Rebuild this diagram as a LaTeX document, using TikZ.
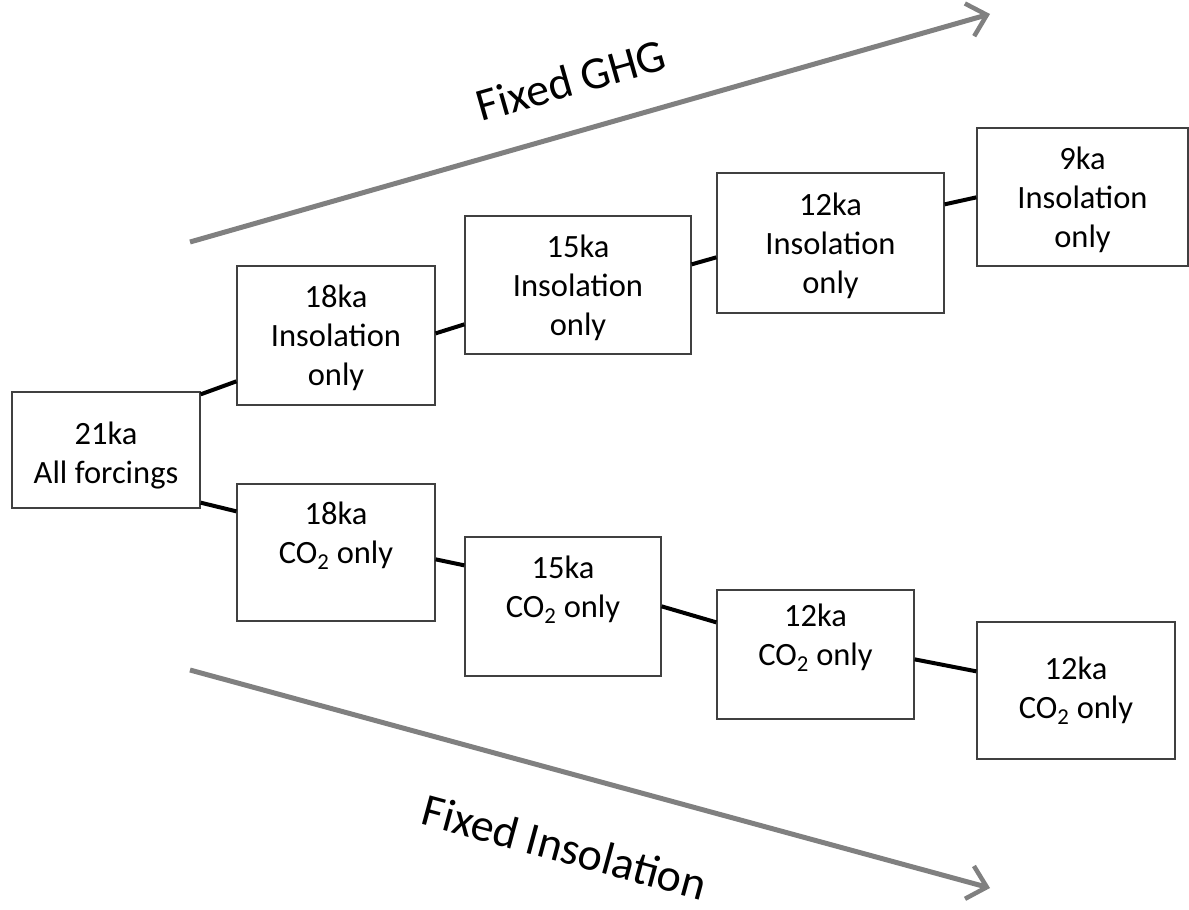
\documentclass[tikz,border=0pt]{standalone}
\usepackage{fontspec}
\setmainfont{Carlito}
\usetikzlibrary{arrows.meta,calc}
\begin{document}
\begin{tikzpicture}[x=1pt,y=-1pt,
 box/.style={draw=black!75, line width=1.3pt, align=center, inner sep=0pt,
   font=\fontsize{32.5}{39}\selectfont},
 link/.style={line width=4pt, black},
 trend/.style={draw=black!50, line width=5pt,
   -{Straight Barb[length=18pt,width=34pt,line width=4.5pt]}},
 lab/.style={font=\fontsize{46}{52}\selectfont, inner sep=0pt}]
\useasboundingbox (0,0) rectangle (1189,910);

% boxes
\node[box, minimum width=188pt, minimum height=116pt] (A) at (106,450) {\rule{0pt}{34pt}21ka\\All forcings};
\node[box, minimum width=198pt, minimum height=139pt] (B1) at (336,335.5) {\strut 18ka\\Insolation\\only};
\node[box, minimum width=226pt, minimum height=138pt] (B2) at (578,285) {\strut 15ka\\Insolation\\only};
\node[box, minimum width=227pt, minimum height=140pt] (B3) at (830.5,243) {\strut 12ka\\Insolation\\only};
\node[box, minimum width=211pt, minimum height=138pt] (B4) at (1082.5,197) {\strut 9ka\\Insolation\\only};
\node[box, minimum width=198pt, minimum height=137pt] (C1) at (336,552.5) {18ka\\CO\textsubscript{2} only\\\mbox{}};
\node[box, minimum width=196pt, minimum height=139pt] (C2) at (563,606.5) {15ka\\CO\textsubscript{2} only\\\mbox{}};
\node[box, minimum width=197pt, minimum height=129pt] (C3) at (815.5,654.5) {12ka\\CO\textsubscript{2} only\\\mbox{}};
\node[box, minimum width=198pt, minimum height=137pt] (C4) at (1076,690.5) {12ka\\CO\textsubscript{2} only};

% connectors
\draw[link] ($(A.north east)+(0,3)$) -- ($(B1.north west)+(0,116)$);
\draw[link] ($(A.south east)+(0,-6)$) -- ($(C1.north west)+(0,28)$);
\draw[link] ($(B1.north east)+(0,68)$) -- ($(B2.north west)+(0,109)$);
\draw[link] ($(B2.north east)+(0,49)$) -- ($(B3.north west)+(0,85)$);
\draw[link] ($(B3.north east)+(0,32)$) -- ($(B4.north west)+(0,70)$);
\draw[link] ($(C1.north east)+(0,76)$) -- ($(C2.north west)+(0,29)$);
\draw[link] ($(C2.north east)+(0,70)$) -- ($(C3.north west)+(0,33)$);
\draw[link] ($(C3.north east)+(0,70)$) -- ($(C4.north west)+(0,50)$);

% trend arrows
\coordinate (g1) at (190,242);
\coordinate (g2) at (990,14);
\coordinate (i1) at (190,670);
\coordinate (i2) at (990,888);
\draw[trend] (g1) -- (g2);
\draw[trend] (i1) -- (i2);
\node[lab, rotate=15.9] (lg) at (571,80) {Fixed GHG};
\node[lab, rotate=-15.2] (li) at (565,847) {Fixed Insolation};
\end{tikzpicture}
\end{document}
